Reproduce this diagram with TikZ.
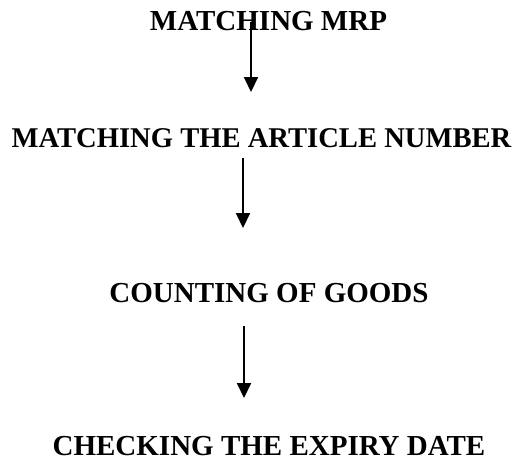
\documentclass[tikz,border=0pt]{standalone}
\usepackage{fontspec}
\setmainfont{Liberation Serif}
\usetikzlibrary{arrows.meta}
\begin{document}
\begin{tikzpicture}[x=1pt,y=-1pt,
  lbl/.style={anchor=base,inner sep=0pt,font=\fontsize{29}{31}\selectfont\bfseries},
  arr/.style={line width=2pt,-{Triangle[length=15pt,width=14pt]}}]
\useasboundingbox[fill=white] (0,0) rectangle (529,461);
\node[lbl] (t1) at (268.5,30) {MATCHING MRP};
\node[lbl,font=\fontsize{28.6}{31}\selectfont\bfseries] (t2) at (261.5,147) {MATCHING THE ARTICLE NUMBER};
\node[lbl] (t3) at (269,302) {COUNTING OF GOODS};
\node[lbl] (t4) at (269,455) {CHECKING THE EXPIRY DATE};
\coordinate (a1s) at (251,22);
\coordinate (a1e) at (251,92);
\coordinate (a2s) at (243,158);
\coordinate (a2e) at (243,228);
\coordinate (a3s) at (244,326);
\coordinate (a3e) at (244,398);
\draw[arr] (a1s) -- (a1e);
\draw[arr] (a2s) -- (a2e);
\draw[arr] (a3s) -- (a3e);
\end{tikzpicture}
\end{document}
